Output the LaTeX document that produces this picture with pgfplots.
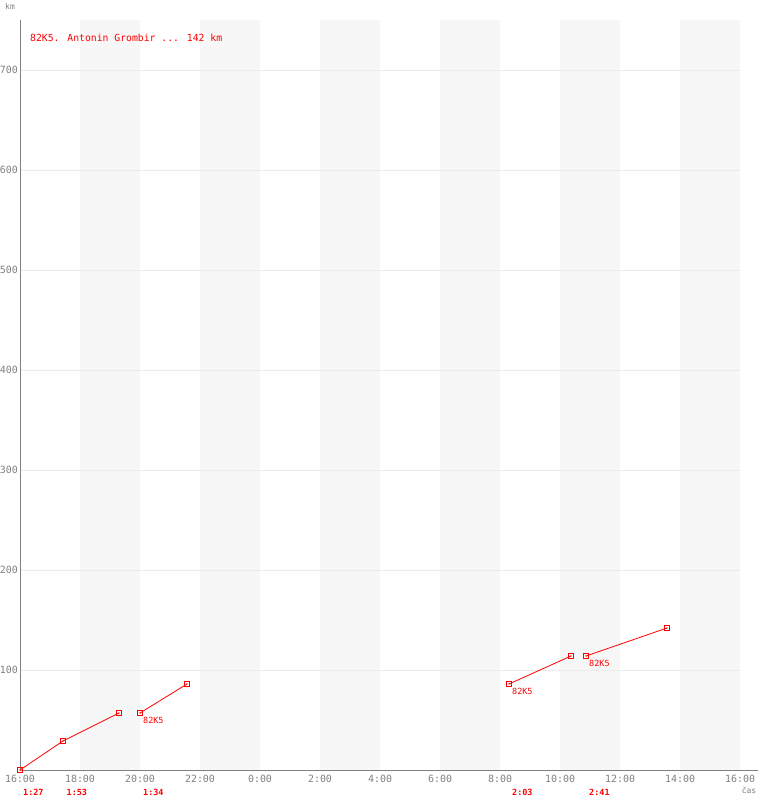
\documentclass[border=0pt]{standalone}
\usepackage{pgfplots}
\pgfplotsset{compat=1.18}
\usepackage{fontspec}
\setmainfont{DejaVu Sans Mono}
\definecolor{tickc}{HTML}{808080}
\definecolor{band}{HTML}{F7F7F7}
\definecolor{gridc}{HTML}{EBEBEB}
\pgfplotsset{seg/.style={red, line width=0.8bp, mark=square, mark size=2.4bp, mark options={solid, fill=none, draw=red, line width=0.8bp}}}
\begin{document}
\begin{tikzpicture}
\begin{axis}[
  set layers,
  at={(20bp,30bp)}, anchor=south west,
  scale only axis, width=720bp, height=750bp,
  xmin=0, xmax=24, ymin=0, ymax=750,
  clip=false,
  axis x line=bottom, axis y line=left,
  axis line style={draw=tickc, line width=0.8bp, -},
  x axis line style={draw=tickc},
  y axis line style={draw=tickc},
  xtick={0,2,...,24},
  xticklabels={16:00,18:00,20:00,22:00,0:00,2:00,4:00,6:00,8:00,10:00,12:00,14:00,16:00},
  ytick={100,200,...,700},
  ymajorgrids,
  grid style={gridc, line width=0.8bp},
  major tick length=0pt,
  /pgf/number format/assume math mode=true,
  tick label style={font=\fontsize{10}{12}\selectfont, text=tickc},
  xticklabel style={anchor=center, yshift=-9bp},
  yticklabel style={anchor=east, inner sep=0pt, xshift=-2bp},
]
\begin{pgfonlayer}{axis background}
\fill[band] (axis cs:2,0) rectangle (axis cs:4,750);
\fill[band] (axis cs:6,0) rectangle (axis cs:8,750);
\fill[band] (axis cs:10,0) rectangle (axis cs:12,750);
\fill[band] (axis cs:14,0) rectangle (axis cs:16,750);
\fill[band] (axis cs:18,0) rectangle (axis cs:20,750);
\fill[band] (axis cs:22,0) rectangle (axis cs:24,750);
\end{pgfonlayer}
\addplot[seg] coordinates {(0,0) (1.433,29) (3.3,57)};
\addplot[seg] coordinates {(4.0,57) (5.567,86)};
\addplot[seg] coordinates {(16.3,86) (18.367,114)};
\addplot[seg] coordinates {(18.867,114) (21.567,142)};
\addplot[red, only marks, mark=*, mark size=0.45bp] coordinates {(0,0) (1.433,29) (3.3,57) (4.0,57) (5.567,86) (16.3,86) (18.367,114) (18.867,114) (21.567,142)};
% segment durations
\node[red, font=\fontsize{8.5}{10}\selectfont\bfseries, anchor=west, inner sep=0pt, xshift=3bp, yshift=-22bp] at (axis cs:0,0) {1:27};
\node[red, font=\fontsize{8.5}{10}\selectfont\bfseries, anchor=west, inner sep=0pt, xshift=3.5bp, yshift=-22bp] at (axis cs:1.433,0) {1:53};
\node[red, font=\fontsize{8.5}{10}\selectfont\bfseries, anchor=west, inner sep=0pt, xshift=3bp, yshift=-22bp] at (axis cs:4.0,0) {1:34};
\node[red, font=\fontsize{8.5}{10}\selectfont\bfseries, anchor=west, inner sep=0pt, xshift=3bp, yshift=-22bp] at (axis cs:16.3,0) {2:03};
\node[red, font=\fontsize{8.5}{10}\selectfont\bfseries, anchor=west, inner sep=0pt, xshift=3bp, yshift=-22bp] at (axis cs:18.867,0) {2:41};
% point labels
\node[red, font=\fontsize{8.5}{10}\selectfont, anchor=west, inner sep=0pt, xshift=3bp, yshift=-7bp] at (axis cs:4.0,57) {82K5};
\node[red, font=\fontsize{8.5}{10}\selectfont, anchor=west, inner sep=0pt, xshift=3bp, yshift=-7bp] at (axis cs:16.3,86) {82K5};
\node[red, font=\fontsize{8.5}{10}\selectfont, anchor=west, inner sep=0pt, xshift=3bp, yshift=-7bp] at (axis cs:18.867,114) {82K5};
\draw[tickc, line width=0.8bp] (axis cs:24,0) -- (axis cs:24.6,0);
\end{axis}
\node[red, anchor=west, inner sep=0pt, font=\fontsize{9.8}{12}\selectfont] at (30bp,762bp) {82K5. Antonin Grombir ... 142 km};
\node[tickc, inner sep=0pt, font=\fontsize{8}{10}\selectfont] at (749bp,10bp) {čas};
\node[tickc, inner sep=0pt, font=\fontsize{8}{10}\selectfont] at (10bp,794bp) {km};
\pgfresetboundingbox
\useasboundingbox (0bp,0bp) rectangle (760bp,800bp);
\end{tikzpicture}
\end{document}
